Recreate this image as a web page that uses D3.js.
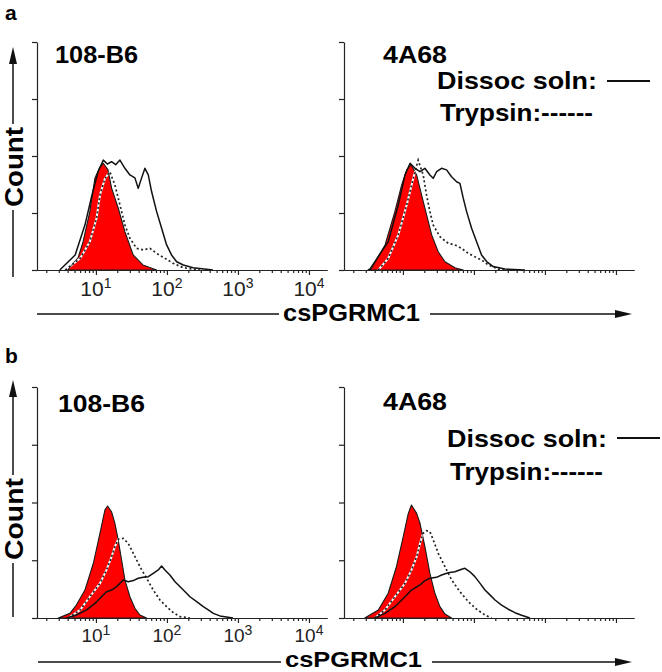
<!DOCTYPE html>
<html><head><meta charset="utf-8">
<script src="https://cdn.jsdelivr.net/npm/d3@7"></script>
<style>
body{margin:0;background:#fff}
svg{display:block}
text{font-family:"Liberation Sans",Arial,Helvetica,sans-serif}
</style>
</head><body>
<svg id="c" width="662" height="672"></svg>
<script>
// ---------- DATA (intensity, % of max count) ----------
const panelLetters = ["a", "b"];
const cloneNames = ["108-B6", "4A68"];
const legendLabels = ["Dissoc soln:", "Trypsin:------"];
const xTitle = "csPGRMC1";
const yTitle = "Count";
const xMajorTicks = [10, 100, 1000, 10000];
const xTickBase = "10";
const xTickExponents = ["1", "2", "3", "4"];
const yTicks = [0, 25, 50, 75, 100];

// Panel a, 108-B6
const aLeftControl = [[4.0,0],[5.6,5.3],[6.6,12.4],[8.2,25.6],[9.7,40.4],[11.3,45],[12.7,46.8],[14.8,43.9],[16.6,36],[20.6,27.2],[25.6,16.8],[33.5,6.6],[45.9,2.2],[71.6,0]];
const aLeftDissoc = [[3.1,0],[5.1,6.6],[7.0,19.7],[8.8,32.9],[10.7,43],[12.7,48.2],[14.5,46.5],[16.6,47.5],[19,46.2],[21.8,48.2],[25.6,44.6],[30.1,41.7],[35.4,40.4],[39.4,35.8],[44,40.4],[49,44.6],[54.6,41.7],[60.9,34.3],[71.6,25.6],[84.2,18.3],[99,11],[116,6.6],[137,3.6],[170,2.2],[234,1],[444,0]];
const aLeftTrypsin = [[3.7,0],[6.0,5.1],[8.2,12.4],[10.2,22.7],[11.4,32.9],[13.4,40.2],[15.7,43.1],[18.5,37.3],[21.8,28.5],[25.6,19.7],[30.1,13.9],[37.4,9.5],[46.4,8.8],[57.6,9.5],[71.6,7.3],[93.7,5.1],[123,2.9],[170,1],[292,0]];
// Panel a, 4A68
const aRightControl = [[3.3,0],[3.6,0.7],[5.6,11],[7.7,25.6],[9.6,37.3],[11.3,43.9],[13.0,46.3],[15.6,41.7],[18.3,32.9],[21.6,24.1],[25.4,15.4],[31.4,8],[39.1,3.6],[54,1],[70.6,0]];
const aRightDissoc = [[3.2,0],[3.43,0.4],[6.2,12.4],[8.6,28.5],[10.7,41.7],[12.6,46.8],[14.8,44.6],[17.4,43.1],[20.4,44.6],[24,41.7],[26.7,40.2],[29.8,43.1],[35,44.6],[41.2,43.9],[48.4,40.9],[57,38.7],[63.5,38],[70.8,31.4],[78.9,25.6],[92.7,18.3],[109,12.4],[128,6.6],[151,3.7],[187,1.5],[273,0.4],[522,0]];
const aRightTrypsin = [[4.5,0],[6.2,5.1],[8.6,15.4],[11.3,28.5],[14,40.2],[16.4,48.2],[19.3,41.7],[21.5,32.9],[24,25.6],[26.7,19.7],[33.2,14.6],[43.5,11.7],[54,11],[67,9.5],[83.2,7.3],[103,5.8],[128,4.4],[159,2.2],[220,0.4],[340,0]];
// Panel b, 108-B6
const bLeftControl = [[2.95,0],[4.3,2],[5.3,5.6],[7.0,12.1],[9.2,23.7],[11.4,36.7],[13.4,46.8],[14.6,48.5],[16.6,46],[18.5,41],[20.6,33.8],[23,25.1],[25.6,16.5],[30.1,9.2],[35.4,4.2],[41.7,1.3],[51.7,0]];
const bLeftDissoc = [[3.9,0],[5.3,1.3],[7.4,3.5],[9.7,6.3],[12,9.2],[14.1,11.4],[16.6,12.1],[19.6,13.6],[21.8,15],[24.3,16.5],[28.5,15.7],[33.6,16.2],[39.4,17.2],[46.4,17.6],[54.6,17.9],[64.2,19.3],[75.5,20.8],[84.1,22.5],[93.7,20.8],[110,18.6],[130,15.7],[152,13.6],[180,11.4],[211,9.2],[262,7.1],[325,4.9],[382,3.5],[450,2],[557,0.9],[851,0]];
const bLeftTrypsin = [[4.1,0],[6.0,3.5],[8.2,9.2],[11.4,15],[14.1,20.8],[16.6,26.5],[18.5,30.9],[20.6,34.1],[24.3,34.5],[28.5,32.3],[33.6,28],[41.7,22.2],[51.7,17.2],[64.2,12.1],[79.7,7.8],[99,4.9],[123,2.3],[152,0.6],[211,0]];
// Panel b, 4A68
const bRightControl = [[2.9,0],[4.5,3.5],[6.2,10.7],[8.1,22.2],[10.1,35.2],[11.9,45.3],[13.2,48.9],[15.6,45.3],[17.4,41],[20.4,30.9],[24,19.3],[28.2,10.7],[33.2,4.9],[39.1,1.7],[48.4,0]];
const bRightDissoc = [[4.0,0],[5.6,2],[7.7,4.9],[10.7,9.2],[13.2,12.1],[17.4,14.3],[20.4,16.2],[24,17.2],[29.8,17.6],[35,18.6],[43.5,19.6],[54,20],[67,21.1],[74.7,21.5],[87.9,20],[103,17.9],[122,15],[143,12.1],[168,10],[198,7.8],[245,5.6],[304,3.8],[378,2.3],[469,1.2],[615,0]];
const bRightTrypsin = [[4.0,0],[5.6,3.5],[7.7,9.2],[10.7,15],[13.2,20.8],[15.6,26.5],[17.4,32.3],[19.3,36.7],[21.5,37.8],[24,37.4],[26.7,33.8],[31.5,28],[39.1,22.2],[48.4,16.5],[63.5,11.4],[83.2,7.1],[109,3.8],[143,1.3],[177,0]];

const xDomain = [1.48, 17950];
const yDomain = [0, 100];

// ---------- LAYOUT ----------
const rows = [
  {top:42, base:270, letterY:20, tickLabelY:296, tickFont:21, supDy:-8, titleY:[63,63], titleX:[55,383], titleW:[83,64],
   legX:[437,440], legY:[89,121], legLine:[607,650,81],
   countTop:127, countBot:207, countTip:47, countLineBot:277,
   xLabX:283, xLabY:321, xLabFont:24, xLineY:314, xLineL:[37,279], xLineR:[430,632],
   data:[[aLeftControl,aLeftDissoc,aLeftTrypsin],[aRightControl,aRightDissoc,aRightTrypsin]]},
  {top:387, base:618, letterY:363, tickLabelY:642, tickFont:19, supDy:-7, titleY:[412,410], titleX:[58,383], titleW:[87,64],
   legX:[447,450], legY:[447,480], legLine:[617,660,438],
   countTop:478, countBot:560, countTip:380, countLineBot:617,
   xLabX:285, xLabY:667, xLabFont:22, xLineY:662, xLineL:[38,281], xLineR:[432,632],
   data:[[bLeftControl,bLeftDissoc,bLeftTrypsin],[bRightControl,bRightDissoc,bRightTrypsin]]}
];
const colX = [37, 344];
const plotW = 290;

const svg = d3.select("#c");
let clipId = 0;

rows.forEach((row, ri) => {
  // panel letter
  svg.append("text").attr("x", 5).attr("y", row.letterY)
    .attr("font-size", 21).attr("font-weight", "bold").text(panelLetters[ri]);

  colX.forEach((x0, ci) => {
    const x = d3.scaleLog().domain(xDomain).range([x0, x0 + plotW]);
    const y = d3.scaleLinear().domain(yDomain).range([row.base, row.top]);
    const g = svg.append("g");
    const [ctrl, dissoc, tryp] = row.data[ci];

    // control: red filled histogram
    const area = d3.area().x(d => x(d[0])).y0(y(0)).y1(d => y(d[1]));
    const line = d3.line().x(d => x(d[0])).y(d => y(d[1]));
    const cid = "clip" + (clipId++);
    g.append("clipPath").attr("id", cid).append("path").attr("d", area(ctrl));
    g.append("path").attr("d", area(ctrl)).attr("fill", "#ff0000")
      .attr("stroke", "#1a1a1a").attr("stroke-width", 1.1).attr("stroke-linejoin", "round");

    // trypsin dotted: black dashes, white dashes visible over red
    g.append("path").attr("d", line(tryp)).attr("fill", "none")
      .attr("stroke", "#fff").attr("stroke-width", 2).attr("clip-path", `url(#${cid})`);
    g.append("path").attr("d", line(tryp)).attr("fill", "none")
      .attr("stroke", "#222").attr("stroke-width", 1.7).attr("stroke-dasharray", "2,2.5");

    // dissoc solid
    g.append("path").attr("d", line(dissoc)).attr("fill", "none")
      .attr("stroke", "#111").attr("stroke-width", 1.5).attr("stroke-linejoin", "round");

    // minor ticks
    const minor = x.ticks().filter(v => !xMajorTicks.includes(v));
    const axMinor = g.append("g").attr("transform", `translate(0,${row.base})`)
      .call(d3.axisBottom(x).tickValues(minor).tickSize(3).tickSizeOuter(0).tickFormat(""));
    const axMajor = g.append("g").attr("transform", `translate(0,${row.base})`)
      .call(d3.axisBottom(x).tickValues(xMajorTicks).tickSize(5).tickSizeOuter(0).tickFormat(""));
    [axMinor, axMajor].forEach(a => {
      a.selectAll("path,line").attr("stroke", "#222").attr("stroke-width", 1.2);
    });
    // y axis
    const ay = g.append("g").attr("transform", `translate(${x0},0)`)
      .call(d3.axisLeft(y).tickValues(yTicks).tickSize(5).tickSizeOuter(0).tickFormat(""));
    ay.selectAll("path,line").attr("stroke", "#222").attr("stroke-width", 1.2);

    // tick labels only on left panels
    if (ci === 0) {
      xMajorTicks.forEach((v, i) => {
        const t = g.append("text").attr("x", x(v)).attr("y", row.tickLabelY)
          .attr("text-anchor", "middle").attr("fill", "#222").attr("font-size", row.tickFont);
        t.append("tspan").text(xTickBase);
        t.append("tspan").attr("dy", row.supDy).attr("font-size", 14).text(xTickExponents[i]);
      });
    }

    // clone title
    g.append("text").attr("x", row.titleX[ci]).attr("y", row.titleY[ci])
      .attr("font-size", 24).attr("font-weight", "bold")
      .attr("textLength", row.titleW[ci]).attr("lengthAdjust", "spacingAndGlyphs")
      .text(cloneNames[ci]);

    // legend (right panels)
    if (ci === 1) {
      g.append("text").attr("x", row.legX[0]).attr("y", row.legY[0])
        .attr("font-size", 24).attr("font-weight", "bold")
        .attr("textLength", 160).attr("lengthAdjust", "spacingAndGlyphs").text(legendLabels[0]);
      g.append("line").attr("x1", row.legLine[0]).attr("x2", row.legLine[1])
        .attr("y1", row.legLine[2]).attr("y2", row.legLine[2])
        .attr("stroke", "#111").attr("stroke-width", 1.8);
      g.append("text").attr("x", row.legX[1]).attr("y", row.legY[1])
        .attr("font-size", 24).attr("font-weight", "bold")
        .attr("textLength", 153).attr("lengthAdjust", "spacingAndGlyphs").text(legendLabels[1]);
    }
  });

  // Count label with arrow
  const cx = 13;
  const cMid = (row.countTop + row.countBot) / 2;
  svg.append("text").attr("transform", `translate(23,${cMid}) rotate(-90)`)
    .attr("text-anchor", "middle").attr("font-size", 25).attr("font-weight", "bold")
    .attr("textLength", row.countBot - row.countTop).attr("lengthAdjust", "spacingAndGlyphs")
    .text(yTitle);
  svg.append("line").attr("x1", cx).attr("x2", cx).attr("y1", row.countLineBot).attr("y2", row.countBot + 3)
    .attr("stroke", "#111").attr("stroke-width", 1.5);
  svg.append("line").attr("x1", cx).attr("x2", cx).attr("y1", row.countTop - 3).attr("y2", row.countTip + 10)
    .attr("stroke", "#111").attr("stroke-width", 1.5);
  svg.append("path").attr("d", `M${cx},${row.countTip} L${cx-4},${row.countTip+17} L${cx+4},${row.countTip+17} Z`)
    .attr("fill", "#111");

  // x label with arrow
  svg.append("line").attr("x1", row.xLineL[0]).attr("x2", row.xLineL[1])
    .attr("y1", row.xLineY).attr("y2", row.xLineY).attr("stroke", "#111").attr("stroke-width", 1.5);
  svg.append("line").attr("x1", row.xLineR[0]).attr("x2", row.xLineR[1] - 10)
    .attr("y1", row.xLineY).attr("y2", row.xLineY).attr("stroke", "#111").attr("stroke-width", 1.5);
  const tx = row.xLineR[1];
  svg.append("path").attr("d", `M${tx},${row.xLineY} L${tx-17},${row.xLineY-4} L${tx-17},${row.xLineY+4} Z`)
    .attr("fill", "#111");
  svg.append("text").attr("x", row.xLabX).attr("y", row.xLabY)
    .attr("font-size", row.xLabFont).attr("font-weight", "bold")
    .attr("textLength", 137).attr("lengthAdjust", "spacingAndGlyphs").text(xTitle);
});
</script>
</body></html>
